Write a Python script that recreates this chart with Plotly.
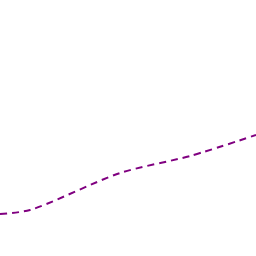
import plotly.graph_objects as go

x_vals = [0, 30, 120, 190, 256]
y_vals = [42, 46, 83, 100, 121]

fig = go.Figure()
fig.add_trace(go.Scatter(
    x=x_vals, y=y_vals, mode="lines",
    line=dict(color="#800080", width=2, dash="7px,5px", shape="spline", smoothing=0.8),
    showlegend=False, hoverinfo="skip",
))
fig.update_layout(
    width=256, height=256,
    margin=dict(l=0, r=0, t=0, b=0),
    paper_bgcolor="white", plot_bgcolor="white",
    xaxis=dict(range=[0, 256], visible=False, fixedrange=True),
    yaxis=dict(range=[0, 256], visible=False, fixedrange=True),
)
fig.write_html("out.html", config={"displayModeBar": False})
